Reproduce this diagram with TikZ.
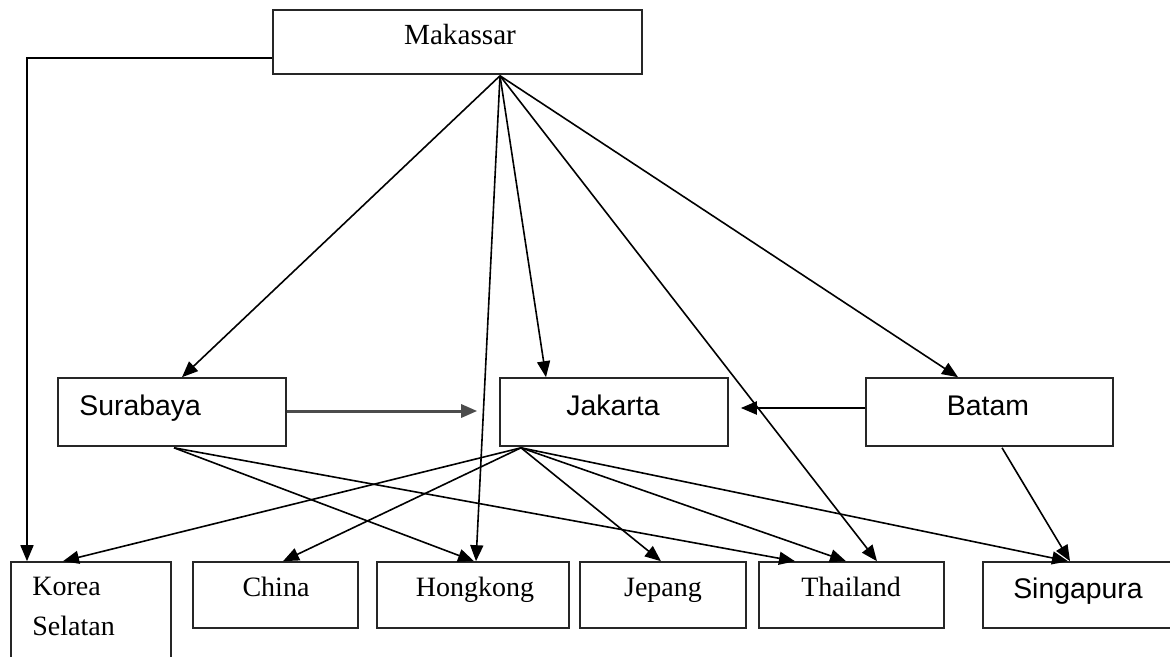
\documentclass[tikz,border=0pt]{standalone}
\usepackage{fontspec}
\setmainfont{Liberation Serif}
\newfontfamily\arialf{Liberation Sans}
\usetikzlibrary{arrows.meta,calc}
\begin{document}
\begin{tikzpicture}[x=0.5pt,y=-0.5pt,
  box/.style={draw=black!85, line width=0.8pt, rectangle, inner sep=0pt},
  lbl/.style={inner sep=0pt, font=\fontsize{14}{16}\selectfont},
  slbl/.style={inner sep=0pt, font=\arialf\fontsize{14.2}{16}\selectfont},
  conn/.style={draw=black, line width=0.8pt},
  arr/.style={conn, -{Triangle[length=8pt,width=6.5pt]}},
  thick arr/.style={draw=black!70, line width=1.5pt, -{Triangle[length=8pt,width=6.5pt]}},
]
\useasboundingbox (0,0) rectangle (1170,657);

% boxes
\node[box, minimum width=184.5pt, minimum height=32pt] (mk) at (457.5,42) {};
\node[box, minimum width=114pt, minimum height=34pt] (sb) at (172,412) {};
\node[box, minimum width=114pt, minimum height=34pt] (jk) at (614,412) {};
\node[box, minimum width=123.5pt, minimum height=34pt] (bt) at (989.5,412) {};
\node[box, minimum width=80pt, minimum height=55pt] (ks) at (91,617) {};
\node[box, minimum width=82.5pt, minimum height=33pt] (cn) at (275.5,595) {};
\node[box, minimum width=96pt, minimum height=33pt] (hk) at (473,595) {};
\node[box, minimum width=83pt, minimum height=33pt] (jp) at (663,595) {};
\node[box, minimum width=92.5pt, minimum height=33pt] (th) at (851.5,595) {};
\node[box, minimum width=101pt, minimum height=33pt] (sg) at (1084,595) {};

% texts
\node[lbl, anchor=base, font=\fontsize{14.6}{16}\selectfont] (mk-t) at (460,45) {Makassar};
\node[slbl, anchor=base west] (sb-t) at (79,415) {Surabaya};
\node[slbl, anchor=base] (jk-t) at (613,415) {Jakarta};
\node[slbl, anchor=base] (bt-t) at (988,415) {Batam};
\node[lbl, anchor=base west] (ks-t1) at (32,595) {Korea};
\node[lbl, anchor=base west] (ks-t2) at (32,635) {Selatan};
\node[lbl, anchor=base] (cn-t) at (276,596) {China};
\node[lbl, anchor=base] (hk-t) at (475,596) {Hongkong};
\node[lbl, anchor=base] (jp-t) at (663,596) {Jepang};
\node[lbl, anchor=base] (th-t) at (851,596) {Thailand};
\node[slbl, anchor=base] (sg-t) at (1078,598) {Singapura};

% attachment points
\coordinate (mkb) at ($(mk.south)+(42.5,1)$);
\coordinate (mkl) at ($(mk.west)+(0,16)$);
\coordinate (corner) at (27,58);
\coordinate (sbb) at ($(sb.south)+(2,1)$);
\coordinate (jkb) at ($(jk.south)+(-93,1)$);
\coordinate (btb) at ($(bt.south)+(12.5,1)$);

% connectors from Makassar
\draw[arr] (mkl) -- (corner) -- (ks.north -| corner);
\draw[arr] (mkb) -- ($(sb.north)+(10,0)$);
\draw[arr] (mkb) -- ($(jk.north)+(-68,0)$);
\draw[arr] (mkb) -- ($(bt.north)+(-31.5,0)$);
\draw[arr] (mkb) -- ($(hk.north)+(3,0)$);
\draw[arr] (mkb) -- ($(th.north)+(25.5,0)$);

% middle row horizontals
\draw[thick arr] ($(sb.east)+(0,-1)$) -- ($(jk.west)+(-22,-1)$);
\draw[arr, line width=1pt] ($(bt.west)+(0,-4)$) -- ($(jk.east)+(12,-4)$);

% from Surabaya
\draw[arr] (sbb) -- ($(hk.north)+(1,0)$);
\draw[arr] (sbb) -- ($(th.north)+(-56.5,0)$);

% from Jakarta
\draw[arr] (jkb) -- ($(ks.north)+(-28,0)$);
\draw[arr] (jkb) -- ($(cn.north)+(7.5,0)$);
\draw[arr] (jkb) -- ($(jp.north)+(-2,0)$);
\draw[arr] (jkb) -- ($(th.north)+(-5.5,0)$);
\draw[arr] (jkb) -- ($(sg.north)+(-16,0)$);

% from Batam
\draw[arr] (btb) -- ($(sg.north)+(-14,0)$);
\end{tikzpicture}
\end{document}
